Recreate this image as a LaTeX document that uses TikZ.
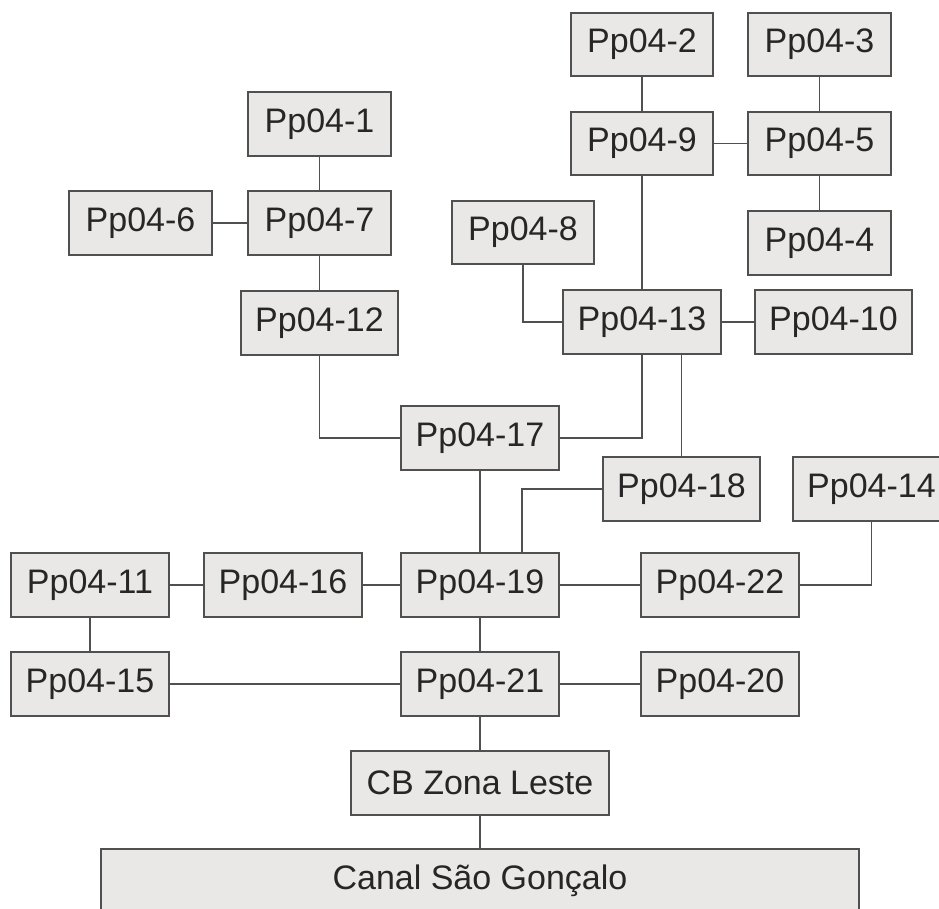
\documentclass[tikz,border=0pt]{standalone}
\usepackage{fontspec}
\setmainfont{Liberation Sans}
\usepackage{tikz}
\definecolor{boxfill}{RGB}{234,232,230}
\definecolor{boxline}{RGB}{80,80,80}

\begin{document}
\begin{tikzpicture}[x=0.75pt,y=-0.75pt,
    pp/.style={draw=boxline,fill=boxfill,line width=1.5pt,inner sep=0pt,
      minimum width=107pt,minimum height=47.5pt,text=black!85,
      font=\fontsize{25.5}{30}\selectfont},
    ppl/.style={pp,minimum width=118pt},
    lig/.style={boxline,line width=1.4pt}]
    \clip (0,0) rectangle (939,908);
    \fill[white] (0,0) rectangle (939,908);
    % pocos de visita, de cima para baixo
    \node[pp] (p2) at (642,44.5) {Pp04-2};
    \node[pp] (p3) at (819.5,44.5) {Pp04-3};
    \node[pp] (p9) at (642,143.5) {Pp04-9};
    \node[pp] (p5) at (819.5,143.5) {Pp04-5};
    \node[pp] (p4) at (819.5,243) {Pp04-4};
    \node[pp] (p1) at (319.5,124) {Pp04-1};
    \node[pp] (p6) at (140.5,223) {Pp04-6};
    \node[pp] (p7) at (319.5,223) {Pp04-7};
    \node[pp] (p8) at (523,232.5) {Pp04-8};
    \node[ppl] (p12) at (319.5,323) {Pp04-12};
    \node[ppl] (p13) at (642,322) {Pp04-13};
    \node[ppl] (p10) at (833.5,322) {Pp04-10};
    \node[ppl] (p17) at (480,438) {Pp04-17};
    \node[ppl] (p18) at (681.5,489) {Pp04-18};
    \node[ppl] (p14) at (871.5,489) {Pp04-14};
    \node[ppl] (p11) at (90,585) {Pp04-11};
    \node[ppl] (p16) at (283,585) {Pp04-16};
    \node[ppl] (p19) at (480,585) {Pp04-19};
    \node[ppl] (p22) at (720,585) {Pp04-22};
    \node[ppl] (p15) at (90,684) {Pp04-15};
    \node[ppl] (p21) at (480,684) {Pp04-21};
    \node[ppl] (p20) at (720,684) {Pp04-20};
    \node[pp,minimum width=193pt] (cb) at (480,783) {CB Zona Leste};
    \node[pp,minimum width=568pt] (canal) at (480,880.5) {Canal São Gonçalo};
    % ligacoes
    \draw[lig] (p2) -- (p9);
    \draw[lig] (p3) -- (p5);
    \draw[lig] (p5) -- (p4);
    \draw[lig] (p9) -- (p5);
    \draw[lig] (p9) -- (p13);
    \draw[lig] (p1) -- (p7);
    \draw[lig] (p6) -- (p7);
    \draw[lig] (p7) -- (p12);
    \draw[lig] (p8) |- (p13);
    \draw[lig] (p13) -- (p10);
    \draw[lig] (p12) |- (p17);
    \draw[lig] (p13) |- (p17);
    \draw[lig] (p18) -- (p18 |- p13.south);
    \draw[lig] (p17) -- (p19);
    \draw[lig] (p18) -| ([xshift=31.5pt]p19.north);
    \draw[lig] (p11) -- (p16);
    \draw[lig] (p16) -- (p19);
    \draw[lig] (p19) -- (p22);
    \draw[lig] (p22) -| (p14);
    \draw[lig] (p11) -- (p15);
    \draw[lig] (p19) -- (p21);
    \draw[lig] (p15) -- (p21);
    \draw[lig] (p21) -- (p20);
    \draw[lig] (p21) -- (cb);
    \draw[lig] (cb) -- (canal);
\end{tikzpicture}
\end{document}
